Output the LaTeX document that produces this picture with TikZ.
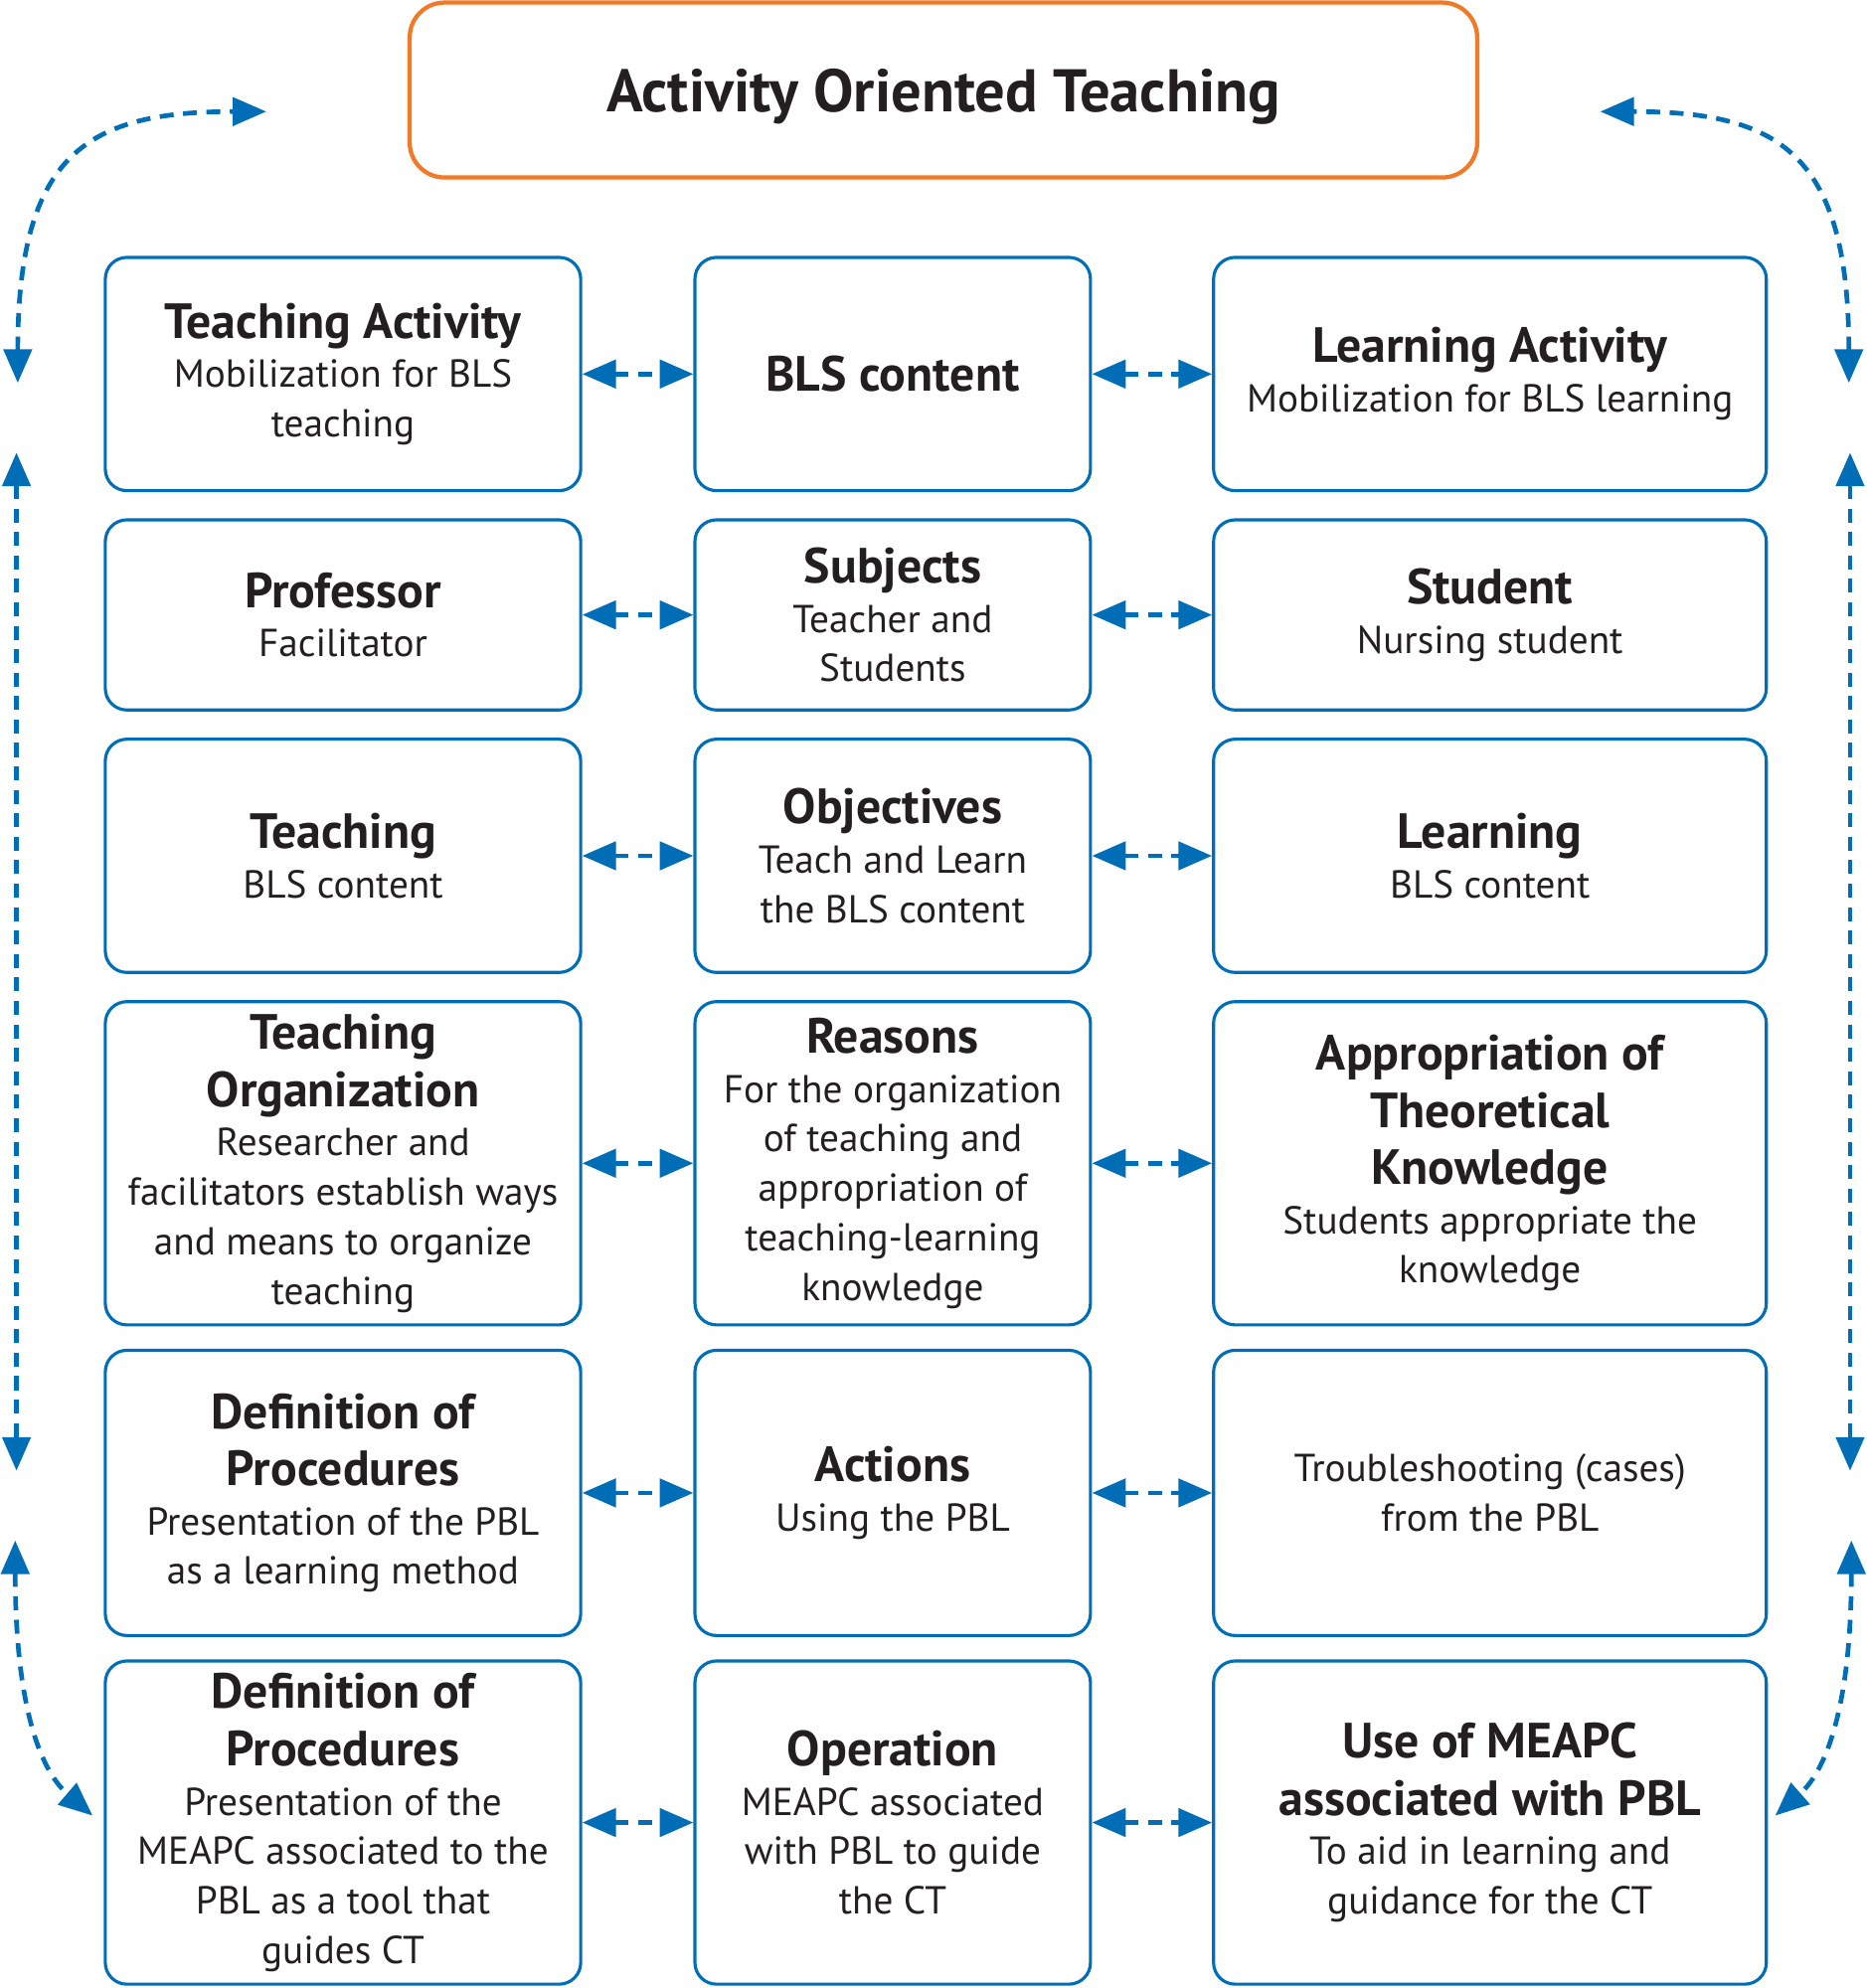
\documentclass[tikz,border=0pt]{standalone}
\usepackage{fontspec}
\setmainfont{PT Sans}
\usetikzlibrary{arrows.meta}
\definecolor{boxblue}{RGB}{0,110,182}
\definecolor{boxorange}{RGB}{240,122,38}
\definecolor{ink}{RGB}{35,31,32}
\newcommand{\hd}{\fontsize{22.2}{25}\selectfont\bfseries}

\begin{document}
\begin{tikzpicture}[x = .02cm, y = -.02cm,
  cell/.style = {draw = boxblue, line width = 1.4pt, rounded corners = .34cm, align = center, text = ink, inner sep = 0pt, font = \fontsize{17.5}{22.2}\selectfont},
  left/.style = {cell, minimum width = 7.5cm},
  mid/.style = {cell, minimum width = 6.24cm},
  right/.style = {cell, minimum width = 8.72cm},
  link/.style = {boxblue, line width = 2.1pt, dash pattern = on .22cm off .15cm, {Triangle[length = .53cm, width = .44cm]}-{Triangle[length = .53cm, width = .44cm]}}]
\useasboundingbox (0,0) rectangle (1472,1568);

\node[draw = boxorange, line width = 1.9pt, rounded corners = .55cm, minimum width = 16.84cm, minimum height = 2.76cm, text depth = 0pt, text = ink, font = \fontsize{27}{30}\selectfont\bfseries] (title) at (744,71) {Activity Oriented Teaching};

% row 1
\node[left, minimum height = 3.68cm] (l1) at (270.5,295) {{\hd Teaching Activity}\\Mobilization for BLS\\teaching};
\node[mid, minimum height = 3.68cm] (m1) at (704,295) {{\hd BLS content}};
\node[right, minimum height = 3.68cm] (r1) at (1175,295) {{\hd Learning Activity}\\Mobilization for BLS learning};
% row 2
\node[left, minimum height = 3cm] (l2) at (270.5,485) {{\hd Professor}\\Facilitator};
\node[mid, minimum height = 3cm] (m2) at (704,485) {{\hd Subjects}\\Teacher and\\Students};
\node[right, minimum height = 3cm] (r2) at (1175,485) {{\hd Student}\\Nursing student};
% row 3
\node[left, minimum height = 3.68cm] (l3) at (270.5,675) {{\hd Teaching}\\BLS content};
\node[mid, minimum height = 3.68cm] (m3) at (704,675) {{\hd Objectives}\\Teach and Learn\\the BLS content};
\node[right, minimum height = 3.68cm] (r3) at (1175,675) {{\hd Learning}\\BLS content};
% row 4
\node[left, minimum height = 5.1cm] (l4) at (270.5,917.5) {{\hd Teaching}\\[.12cm]{\hd Organization}\\Researcher and\\facilitators establish ways\\and means to organize\\teaching};
\node[mid, minimum height = 5.1cm] (m4) at (704,917.5) {{\hd Reasons}\\For the organization\\of teaching and\\appropriation of\\teaching-learning\\knowledge};
\node[right, minimum height = 5.1cm] (r4) at (1175,917.5) {{\hd Appropriation of}\\[.12cm]{\hd Theoretical}\\[.12cm]{\hd Knowledge}\\Students appropriate the\\knowledge};
% row 5
\node[left, minimum height = 4.5cm] (l5) at (270.5,1177.5) {{\hd Definition of}\\[.12cm]{\hd Procedures}\\Presentation of the PBL\\as a learning method};
\node[mid, minimum height = 4.5cm] (m5) at (704,1177.5) {{\hd Actions}\\Using the PBL};
\node[right, minimum height = 4.5cm] (r5) at (1175,1177.5) {Troubleshooting (cases)\\from the PBL};
% row 6
\node[left, minimum height = 5.1cm] (l6) at (270.5,1437.5) {{\hd Definition of}\\[.12cm]{\hd Procedures}\\Presentation of the\\MEAPC associated to the\\PBL as a tool that\\guides CT};
\node[mid, minimum height = 5.1cm] (m6) at (704,1437.5) {{\hd Operation}\\MEAPC associated\\with PBL to guide\\the CT};
\node[right, minimum height = 5.1cm] (r6) at (1175,1437.5) {{\hd Use of MEAPC}\\[.12cm]{\hd associated with PBL}\\To aid in learning and\\guidance for the CT};

\foreach \r in {1,...,6} {
  \draw[link] (l\r) -- (m\r);
  \draw[link] (m\r) -- (r\r);
}

% side loops
\coordinate (lt) at (210,88);
\coordinate (la) at (14,302);
\coordinate (lb) at (13,357);
\coordinate (lc) at (13,1160);
\coordinate (ld) at (12,1215);
\coordinate (le) at (73,1432);
\coordinate (rt) at (1262,88);
\coordinate (ra) at (1458,302);
\coordinate (rb) at (1459,357);
\coordinate (rc) at (1459,1160);
\coordinate (rd) at (1460,1215);
\coordinate (re) at (1400,1432);
\draw[link] (la) .. controls (14,120) and (70,88) .. (lt);
\draw[link] (lb) -- (lc);
\draw[link] (ld) .. controls (12,1340) and (30,1395) .. (le);
\draw[link] (ra) .. controls (1458,120) and (1402,88) .. (rt);
\draw[link] (rb) -- (rc);
\draw[link] (rd) .. controls (1460,1340) and (1442,1395) .. (re);
\end{tikzpicture}
\end{document}
